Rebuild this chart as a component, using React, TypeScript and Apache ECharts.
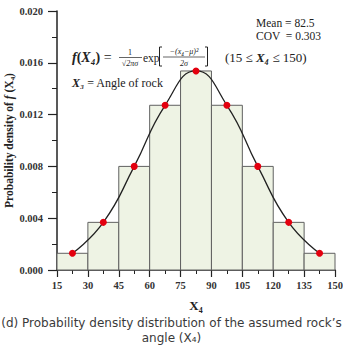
import React, { useEffect, useRef } from "react";
import * as echarts from "echarts";

// Histogram bins of the rock angle X4 (degrees) and their probability densities
const binStarts = [15, 30, 45, 60, 75, 90, 105, 120, 135];
const binEnds = [30, 45, 60, 75, 90, 105, 120, 135, 150];
const binDensity = [0.00129, 0.00368, 0.008, 0.01272, 0.01537, 0.01272, 0.008, 0.00368, 0.00129];

// Fitted normal density, sampled at the bin centres
const curveX = [22.5, 37.5, 52.5, 67.5, 82.5, 97.5, 112.5, 127.5, 142.5];
const curveDensity = [0.00129, 0.00368, 0.008, 0.01272, 0.01537, 0.01272, 0.008, 0.00368, 0.00129];

const xTicks = [15, 30, 45, 60, 75, 90, 105, 120, 135, 150];
const yTicks = [0, 0.004, 0.008, 0.012, 0.016, 0.02];

const SERIF = "'Liberation Serif', 'Times New Roman', serif";
const AXIS_COLOR = "#222";

export default function App() {
  const ref = useRef<HTMLDivElement>(null);

  useEffect(() => {
    if (!ref.current) return;
    const chart = echarts.init(ref.current, undefined, { renderer: "svg" });

    const bins = binStarts.map((s, i) => [s, binEnds[i], binDensity[i]]);
    const curve = curveX.map((x, i) => [x, curveDensity[i]]);

    const serifText = (size: number, weight = "normal", style = "normal") => ({
      fontFamily: SERIF,
      fontSize: size,
      fontWeight: weight,
      fontStyle: style,
      fill: "#222",
    });

    const centered = { align: "center", verticalAlign: "middle", textAlign: "center", textVerticalAlign: "middle" };
    const leftMiddle = { align: "left", verticalAlign: "middle", textAlign: "left", textVerticalAlign: "middle" };

    chart.setOption({
      animation: false,
      grid: { left: 57, right: 8, top: 11, bottom: 81, outerBoundsMode: "none", containLabel: false },
      xAxis: {
        type: "value",
        min: xTicks[0],
        max: xTicks[xTicks.length - 1],
        interval: xTicks[1] - xTicks[0],
        name: "X₄",
        nameLocation: "middle",
        nameGap: 29,
        nameMoveOverlap: false,
        nameTextStyle: { fontFamily: SERIF, fontSize: 13, fontWeight: "bold", color: "#222" },
        axisLine: { lineStyle: { color: AXIS_COLOR, width: 1.5 } },
        axisTick: { length: 7, lineStyle: { color: AXIS_COLOR, width: 1.2 } },
        minorTick: { show: true, splitNumber: 2, length: 4, lineStyle: { color: AXIS_COLOR, width: 1 } },
        splitLine: { show: false },
        minorSplitLine: { show: false },
        axisLabel: { margin: 10, fontFamily: SERIF, fontSize: 10.5, fontWeight: "bold", color: "#333" },
      },
      yAxis: {
        type: "value",
        min: yTicks[0],
        max: yTicks[yTicks.length - 1],
        interval: yTicks[1] - yTicks[0],
        name: "{t|Probability density of }{f|f}{t| (X₄)}",
        nameLocation: "middle",
        nameRotate: 90,
        nameGap: 42,
        nameMoveOverlap: false,
        nameTextStyle: {
          rich: {
            t: { fontFamily: SERIF, fontSize: 11.5, fontWeight: "bold", color: "#222" },
            f: { fontFamily: SERIF, fontSize: 11.5, fontWeight: "bold", fontStyle: "italic", color: "#222" },
          },
        },
        axisLine: { show: true, lineStyle: { color: AXIS_COLOR, width: 1.5 } },
        axisTick: { length: 9, lineStyle: { color: AXIS_COLOR, width: 1.2 } },
        minorTick: { show: true, splitNumber: 2, length: 5, lineStyle: { color: AXIS_COLOR, width: 1 } },
        splitLine: { show: false },
        minorSplitLine: { show: false },
        axisLabel: {
          margin: 14,
          fontFamily: SERIF,
          fontSize: 10.5,
          fontWeight: "bold",
          color: "#333",
          formatter: (v: number) => v.toFixed(3),
        },
      },
      series: [
        {
          type: "custom",
          data: bins,
          encode: { x: [0, 1], y: 2 },
          z: 1,
          renderItem: (_params: any, api: any) => {
            const top = api.coord([api.value(0), api.value(2)]);
            const bottom = api.coord([api.value(1), 0]);
            return {
              type: "rect",
              shape: { x: top[0], y: top[1], width: bottom[0] - top[0], height: bottom[1] - top[1] },
              style: { fill: "#eef3e4", stroke: "#606060", lineWidth: 1 },
            };
          },
        },
        {
          type: "line",
          data: curve,
          smooth: true,
          z: 3,
          symbol: "circle",
          symbolSize: 7,
          itemStyle: { color: "#e3000f" },
          lineStyle: { color: "#222", width: 1.3 },
        },
      ],
      graphic: [
        // f(X4) = 1/sqrt(2πσ) exp[ -(x4-μ)^2 / 2σ ]
        {
          type: "text",
          x: 72,
          y: 57,
          style: {
            text: "{b|f}{p|(}{b|X₄}{p|)}{n| =}",
            ...leftMiddle,
            rich: {
              b: serifText(14, "bold", "italic"),
              p: serifText(14, "bold"),
              n: serifText(14),
            },
          },
        },
        { type: "text", x: 130, y: 52, style: { text: "1", ...centered, ...serifText(8) } },
        { type: "line", shape: { x1: 119, y1: 57.5, x2: 142, y2: 57.5 }, style: { stroke: "#222", lineWidth: 0.7 } },
        { type: "text", x: 130, y: 63, style: { text: "√2πσ", ...centered, ...serifText(8, "normal", "italic") } },
        { type: "text", x: 143, y: 58, style: { text: "exp", ...leftMiddle, ...serifText(11.5) } },
        { type: "polyline", shape: { points: [[162, 47], [159.5, 47], [159.5, 66], [162, 66]] }, style: { stroke: "#222", lineWidth: 1, fill: "none" } },
        { type: "text", x: 184, y: 51, style: { text: "−(x₄−μ)²", ...centered, ...serifText(8, "normal", "italic") } },
        { type: "line", shape: { x1: 163, y1: 57, x2: 205, y2: 57 }, style: { stroke: "#222", lineWidth: 0.7 } },
        { type: "text", x: 184, y: 63, style: { text: "2σ", ...centered, ...serifText(8, "normal", "italic") } },
        { type: "polyline", shape: { points: [[205, 47], [207.5, 47], [207.5, 66], [205, 66]] }, style: { stroke: "#222", lineWidth: 1, fill: "none" } },
        {
          type: "text",
          x: 225,
          y: 57,
          style: {
            text: "{n|(15 ≤ }{b|X₄}{n| ≤ 150)}",
            ...leftMiddle,
            rich: { n: serifText(13), b: serifText(13, "bold", "italic") },
          },
        },
        {
          type: "text",
          x: 72,
          y: 83,
          style: {
            text: "{b|X₃}{n| = Angle of rock}",
            ...leftMiddle,
            rich: { n: serifText(12), b: serifText(12, "bold", "italic") },
          },
        },
        { type: "text", x: 256, y: 23, style: { text: "Mean = 82.5", ...leftMiddle, ...serifText(11.5) } },
        { type: "text", x: 256, y: 36, style: { text: "COV  = 0.303", ...leftMiddle, ...serifText(11.5) } },
        // Figure caption
        {
          type: "text",
          x: 171.5,
          y: 323,
          style: {
            text: "(d) Probability density distribution of the assumed rock’s",
            ...centered,
            fontFamily: "'DejaVu Sans', sans-serif",
            fontSize: 12,
            fill: "#3a3a3a",
          },
        },
        {
          type: "text",
          x: 171.5,
          y: 338,
          style: {
            text: "angle (X₄)",
            ...centered,
            fontFamily: "'DejaVu Sans', sans-serif",
            fontSize: 12,
            fill: "#3a3a3a",
          },
        },
      ],
    });

    return () => chart.dispose();
  }, []);

  return <div ref={ref} style={{ width: 343, height: 351, position: "absolute", left: 0, top: 0 }} />;
}
